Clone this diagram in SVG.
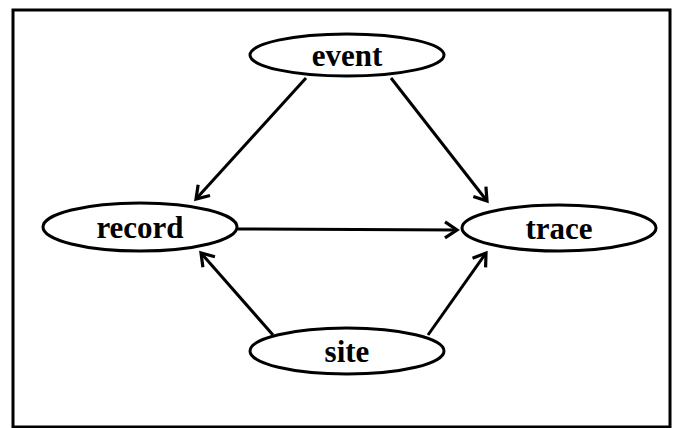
<svg xmlns="http://www.w3.org/2000/svg" width="675" height="428" viewBox="0 0 675 428">
<style>
.n ellipse{fill:#fff;stroke:#000;stroke-width:3}
.n text{font-family:"Liberation Serif","Times New Roman",serif;font-weight:bold;font-size:31px;text-anchor:middle;fill:#000}
.c line{stroke:#000;stroke-width:3;marker-end:url(#ah)}
</style>
<defs>
<marker id="ah" viewBox="-14 -10 16 20" refX="0" refY="0" markerWidth="16" markerHeight="20" markerUnits="userSpaceOnUse" orient="auto" overflow="visible">
<path d="M-12,-8 L0,0 L-12,8" fill="none" stroke="#000" stroke-width="3.2" stroke-linejoin="miter"/>
</marker>
</defs>
<rect x="0" y="0" width="675" height="428" fill="#fff"/>
<rect x="13" y="10" width="657" height="417" fill="none" stroke="#000" stroke-width="3"/>
<g class="c">
<line x1="306" y1="78" x2="196" y2="199"/>
<line x1="391" y1="78" x2="487" y2="201"/>
<line x1="238" y1="229" x2="457" y2="230"/>
<line x1="273" y1="335" x2="201" y2="253"/>
<line x1="428" y1="335" x2="486" y2="253"/>
</g>
<g id="event" class="n"><ellipse cx="347" cy="55" rx="97" ry="21"/><text x="347" y="66">event</text></g>
<g id="record" class="n"><ellipse cx="140" cy="227" rx="97" ry="24"/><text x="140" y="238">record</text></g>
<g id="trace" class="n"><ellipse cx="559" cy="228" rx="97" ry="23"/><text x="559" y="239">trace</text></g>
<g id="site" class="n"><ellipse cx="347" cy="351" rx="97" ry="23"/><text x="347" y="362">site</text></g>
</svg>
